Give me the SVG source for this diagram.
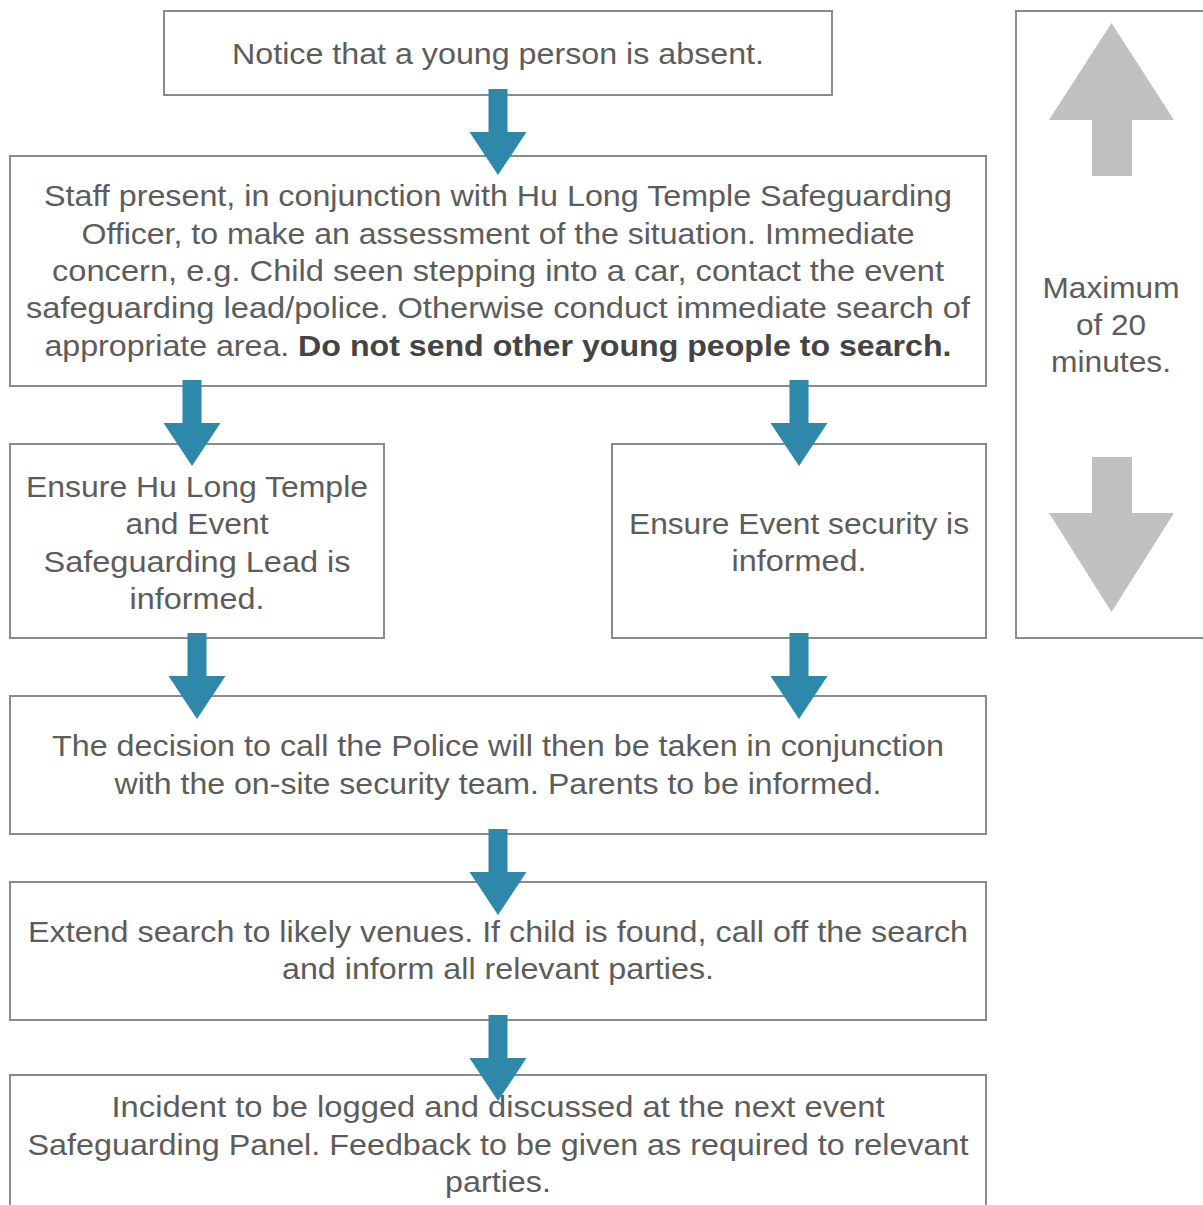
<svg xmlns="http://www.w3.org/2000/svg" width="1203" height="1205" viewBox="0 0 1203 1205">
<style>
.box{fill:#fff;stroke:#8a8a8a;stroke-width:2}
.t{font-family:"Liberation Sans",Arial,sans-serif;font-size:30px;fill:#5c5c5c;text-anchor:middle}
.b{font-weight:bold;fill:#444}
.ba{fill:#2e88a9}
.ga{fill:#c0c0c0}
</style>
<defs>
<path id="barrow" d="M-9.5,0 H9.5 V43 H28.5 L0,86 L-28.5,43 H-9.5 Z"/>
</defs>
<rect width="1203" height="1205" fill="#fff"/>
<g id="n1"><rect class="box" x="164" y="11" width="668" height="84"/>
<text class="t" x="498" y="64" textLength="532" lengthAdjust="spacingAndGlyphs">Notice that a young person is absent.</text></g>
<g id="n2"><rect class="box" x="10" y="156" width="976" height="230"/>
<text class="t" x="498" y="206" textLength="908" lengthAdjust="spacingAndGlyphs">Staff present, in conjunction with Hu Long Temple Safeguarding</text>
<text class="t" x="498" y="244" textLength="833" lengthAdjust="spacingAndGlyphs">Officer, to make an assessment of the situation. Immediate</text>
<text class="t" x="498" y="281" textLength="892" lengthAdjust="spacingAndGlyphs">concern, e.g. Child seen stepping into a car, contact the event</text>
<text class="t" x="498" y="318" textLength="944" lengthAdjust="spacingAndGlyphs">safeguarding lead/police. Otherwise conduct immediate search of</text>
<text class="t" x="498" y="356" textLength="907" lengthAdjust="spacingAndGlyphs">appropriate area. <tspan class="b">Do not send other young people to search.</tspan></text></g>
<g id="n3"><rect class="box" x="10" y="444" width="374" height="194"/>
<text class="t" x="197" y="497" textLength="342" lengthAdjust="spacingAndGlyphs">Ensure Hu Long Temple</text>
<text class="t" x="197" y="534" textLength="143" lengthAdjust="spacingAndGlyphs">and Event</text>
<text class="t" x="197" y="572" textLength="307" lengthAdjust="spacingAndGlyphs">Safeguarding Lead is</text>
<text class="t" x="197" y="609" textLength="135" lengthAdjust="spacingAndGlyphs">informed.</text></g>
<g id="n4"><rect class="box" x="612" y="444" width="374" height="194"/>
<text class="t" x="799" y="534" textLength="340" lengthAdjust="spacingAndGlyphs">Ensure Event security is</text>
<text class="t" x="799" y="571" textLength="135" lengthAdjust="spacingAndGlyphs">informed.</text></g>
<g id="n5"><rect class="box" x="10" y="696" width="976" height="138"/>
<text class="t" x="498" y="756" textLength="892" lengthAdjust="spacingAndGlyphs">The decision to call the Police will then be taken in conjunction</text>
<text class="t" x="498" y="794" textLength="767" lengthAdjust="spacingAndGlyphs">with the on-site security team. Parents to be informed.</text></g>
<g id="n6"><rect class="box" x="10" y="882" width="976" height="138"/>
<text class="t" x="498" y="942" textLength="940" lengthAdjust="spacingAndGlyphs">Extend search to likely venues. If child is found, call off the search</text>
<text class="t" x="498" y="979" textLength="432" lengthAdjust="spacingAndGlyphs">and inform all relevant parties.</text></g>
<g id="n7"><rect class="box" x="10" y="1075" width="976" height="140"/>
<text class="t" x="498" y="1117" textLength="773" lengthAdjust="spacingAndGlyphs">Incident to be logged and discussed at the next event</text>
<text class="t" x="498" y="1155" textLength="941" lengthAdjust="spacingAndGlyphs">Safeguarding Panel. Feedback to be given as required to relevant</text>
<text class="t" x="498" y="1192" textLength="106" lengthAdjust="spacingAndGlyphs">parties.</text></g>
<g id="timer"><rect class="box" x="1016" y="11" width="200" height="627"/>
<path class="ga" d="M1111.5,23 L1174,120 H1132 V176 H1092 V120 H1049 Z"/>
<path class="ga" d="M1092,457 H1132 V513 H1174 L1111.5,612 L1049,513 H1092 Z"/>
<text class="t" x="1111" y="298" textLength="137" lengthAdjust="spacingAndGlyphs">Maximum</text>
<text class="t" x="1111" y="335" textLength="70" lengthAdjust="spacingAndGlyphs">of 20</text>
<text class="t" x="1111" y="372" textLength="120" lengthAdjust="spacingAndGlyphs">minutes.</text></g>
<g id="connectors">
<use href="#barrow" class="ba" x="498" y="89"/>
<use href="#barrow" class="ba" x="192" y="380"/>
<use href="#barrow" class="ba" x="799" y="380"/>
<use href="#barrow" class="ba" x="197" y="633"/>
<use href="#barrow" class="ba" x="799" y="633"/>
<use href="#barrow" class="ba" x="498" y="829"/>
<use href="#barrow" class="ba" x="498" y="1015"/>
</g>
</svg>
